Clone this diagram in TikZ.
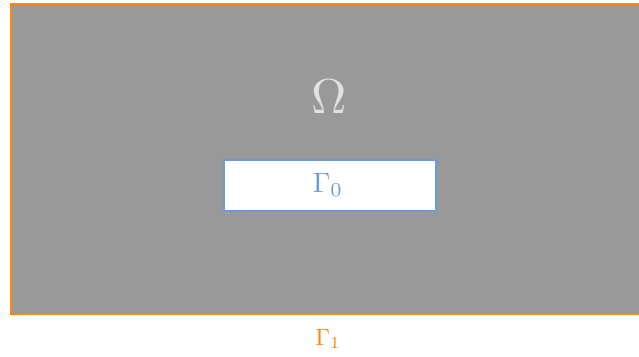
\documentclass[tikz,border=0pt]{standalone}
\usepackage{graphicx}
\definecolor{fillgray}{RGB}{153,153,153}
\definecolor{borderorange}{RGB}{255,133,10}
\definecolor{innerblue}{RGB}{106,155,212}
\definecolor{omegagray}{RGB}{225,225,225}
\tikzset{
  regionbox/.style={fill=fillgray, draw=borderorange, line width=2pt},
  holebox/.style={fill=white, draw=innerblue, line width=2pt},
}
\begin{document}
\begin{tikzpicture}[x=1pt,y=-1pt]
\useasboundingbox (0,0) rectangle (639,356);
\begin{scope}
\clip (0,0) rectangle (639,356);
\path[regionbox] (10.5,4) rectangle (660,314);
\end{scope}
\path[holebox] (223.5,159.5) rectangle (435.5,210.5);
\node[text=omegagray] (omega) at (329,97) {\scalebox{4.9}{$\Omega$}};
\node[text=innerblue] (g0) at (328,185) {\scalebox{2.8}{$\Gamma_0$}};
\node[text=borderorange] (g1) at (328,339) {\scalebox{2.35}{$\Gamma_1$}};
\end{tikzpicture}
\end{document}
